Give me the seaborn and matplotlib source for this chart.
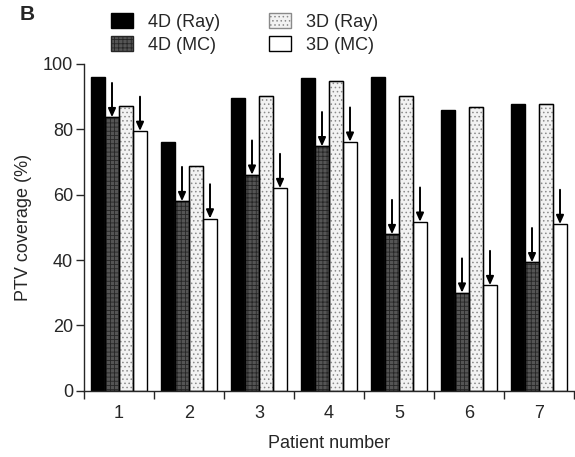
import numpy as np
import pandas as pd
import matplotlib
matplotlib.use("Agg")
import matplotlib.pyplot as plt
import seaborn as sns

patients = ["1", "2", "3", "4", "5", "6", "7"]
methods = ["4D (Ray)", "4D (MC)", "3D (Ray)", "3D (MC)"]
ray4d = [95.9, 76.2, 89.7, 95.6, 96.0, 86.0, 87.7]
mc4d = [83.7, 58.0, 66.1, 74.8, 47.9, 30.0, 39.3]
ray3d = [87.2, 68.8, 90.2, 94.8, 90.1, 86.8, 87.7]
mc3d = [79.5, 52.7, 62.0, 76.2, 51.7, 32.3, 51.0]
yticks = [0, 20, 40, 60, 80, 100]

values = {"4D (Ray)": ray4d, "4D (MC)": mc4d, "3D (Ray)": ray3d, "3D (MC)": mc3d}
rows = []
for m in methods:
    for p, v in zip(patients, values[m]):
        rows.append({"patient": p, "method": m, "coverage": v})
df = pd.DataFrame(rows)

sns.set_style("ticks")
plt.rcParams["font.family"] = ["Liberation Sans", "DejaVu Sans"]
plt.rcParams["hatch.linewidth"] = 0.6

fig = plt.figure(figsize=(5.75, 4.57), dpi=100)
ax = fig.add_axes([84 / 575, 1 - 390.7 / 457, (574 - 84) / 575, (390.7 - 64) / 457])

face = {"4D (Ray)": "black", "4D (MC)": "#555555", "3D (Ray)": "#f2f2f2", "3D (MC)": "white"}
hatch = {"4D (Ray)": None, "4D (MC)": "++++", "3D (Ray)": "....", "3D (MC)": None}
hcol = {"4D (Ray)": "black", "4D (MC)": "#262626", "3D (Ray)": "#8a8a8a", "3D (MC)": "black"}

sns.barplot(data=df, x="patient", y="coverage", hue="method", order=patients,
            hue_order=methods, palette=face, width=0.8, saturation=1,
            edgecolor="black", linewidth=1.0, ax=ax, legend=False)

for m, cont in zip(methods, ax.containers):
    for b in cont:
        b.set_facecolor(face[m])
        if hatch[m]:
            b.set_hatch(hatch[m])
            b.set_edgecolor(hcol[m])
            x0, w, h = b.get_x(), b.get_width(), b.get_height()
            ax.add_patch(plt.Rectangle((x0, 0), w, h, fill=False, edgecolor="black", linewidth=1.0))
    if m in ("4D (MC)", "3D (MC)"):
        for b in cont:
            xc = b.get_x() + b.get_width() / 2
            h = b.get_height()
            ax.annotate("", xy=(xc, h), xytext=(xc, h + 10.5),
                        arrowprops=dict(arrowstyle="-|>,head_length=0.5,head_width=0.22",
                                        color="black", lw=1.4, shrinkA=0, shrinkB=0))

ax.set_xlim(-0.5, 6.5)
ax.set_ylim(0, 100)
ax.set_yticks(yticks)
ax.set_yticklabels([str(t) for t in yticks])
ax.set_xticks(np.arange(-0.5, 7.0, 1.0))
ax.set_xticklabels([])
ax.set_xticks(np.arange(7), minor=True)
ax.set_xticklabels(patients, minor=True)
ax.tick_params(axis="x", which="minor", length=0, pad=10, labelsize=13)
ax.tick_params(axis="x", which="major", length=6, width=1, direction="out")
ax.tick_params(axis="y", length=6, width=1, direction="out", labelsize=13, pad=2)
sns.despine(ax=ax)
for s in ("left", "bottom"):
    ax.spines[s].set_linewidth(1.0)

ax.set_xlabel("Patient number", fontsize=13, labelpad=10)
ax.set_ylabel("PTV coverage (%)", fontsize=13, labelpad=8)

handles = []
for m in methods:
    handles.append(matplotlib.patches.Patch(facecolor=face[m], edgecolor=hcol[m] if hatch[m] else "black",
                                             hatch=hatch[m], linewidth=1.0))
leg = fig.legend(handles, methods, loc="upper left", bbox_to_anchor=(104 / 575, 1 - 6 / 457),
                 ncol=2, frameon=False, fontsize=13, handlelength=1.2, handleheight=0.9,
                 columnspacing=2.7, labelspacing=0.3, handletextpad=0.85, borderaxespad=0)

fig.text(20 / 575, 1 - 15 / 457, "B", fontsize=15, fontweight="bold", va="center", ha="left")

fig.savefig("out.png", dpi=100)
